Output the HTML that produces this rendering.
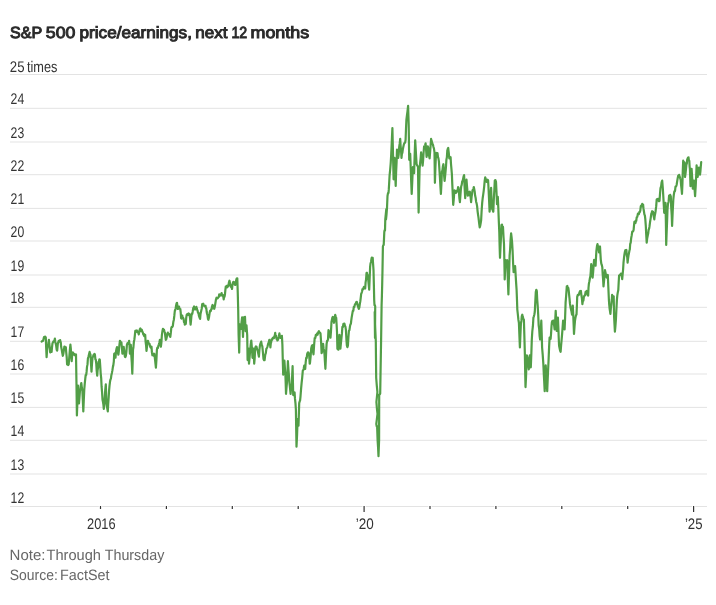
<!DOCTYPE html>
<html><head><meta charset="utf-8"><style>
html,body{margin:0;padding:0;background:#fff;}
body{width:716px;height:605px;overflow:hidden;}
svg{display:block;}
text{filter:grayscale(1);text-rendering:geometricPrecision;}
text{font-family:"Liberation Sans",sans-serif;}
.g{stroke:#e3e3e3;stroke-width:1;}
.t{stroke:#333;stroke-width:1.2;}
.yl{font-size:15.4px;fill:#333;}
.xl{font-size:15.3px;fill:#333;}
.ttl{font-size:16.2px;font-weight:normal;fill:#2a2a2a;stroke:#2a2a2a;stroke-width:0.95px;}
.note{font-size:15px;fill:#666;}
</style></head><body>
<svg width="716" height="605" viewBox="0 0 716 605">
<text x="10.08" y="38" class="ttl" textLength="32.31" lengthAdjust="spacingAndGlyphs">S&amp;P</text>
<text x="45.79" y="38" class="ttl" textLength="29.57" lengthAdjust="spacingAndGlyphs">500</text>
<text x="79.57" y="38" class="ttl" textLength="112.39" lengthAdjust="spacingAndGlyphs">price/earnings,</text>
<text x="195.25" y="38" class="ttl" textLength="32.22" lengthAdjust="spacingAndGlyphs">next</text>
<text x="231.51" y="38" class="ttl" textLength="15.75" lengthAdjust="spacingAndGlyphs">12</text>
<text x="250.49" y="38" class="ttl" textLength="58.70" lengthAdjust="spacingAndGlyphs">months</text>

<line x1="10" y1="474.00" x2="707" y2="474.00" class="g"/>
<line x1="10" y1="440.30" x2="707" y2="440.30" class="g"/>
<line x1="10" y1="407.40" x2="707" y2="407.40" class="g"/>
<line x1="10" y1="374.00" x2="707" y2="374.00" class="g"/>
<line x1="10" y1="341.30" x2="707" y2="341.30" class="g"/>
<line x1="10" y1="307.30" x2="707" y2="307.30" class="g"/>
<line x1="10" y1="275.00" x2="707" y2="275.00" class="g"/>
<line x1="10" y1="241.00" x2="707" y2="241.00" class="g"/>
<line x1="10" y1="208.40" x2="707" y2="208.40" class="g"/>
<line x1="10" y1="174.70" x2="707" y2="174.70" class="g"/>
<line x1="10" y1="142.00" x2="707" y2="142.00" class="g"/>
<line x1="10" y1="108.30" x2="707" y2="108.30" class="g"/>
<line x1="10" y1="74.50" x2="707" y2="74.50" class="g"/>
<line x1="10" y1="506.50" x2="707" y2="506.50" class="g"/>

<text x="10.6" y="502.5" class="yl" textLength="13.6" lengthAdjust="spacingAndGlyphs">12</text>
<text x="10.6" y="470.0" class="yl" textLength="13.6" lengthAdjust="spacingAndGlyphs">13</text>
<text x="10.6" y="436.3" class="yl" textLength="13.6" lengthAdjust="spacingAndGlyphs">14</text>
<text x="10.6" y="403.4" class="yl" textLength="13.6" lengthAdjust="spacingAndGlyphs">15</text>
<text x="10.6" y="370.0" class="yl" textLength="13.6" lengthAdjust="spacingAndGlyphs">16</text>
<text x="10.6" y="337.3" class="yl" textLength="13.6" lengthAdjust="spacingAndGlyphs">17</text>
<text x="10.6" y="303.3" class="yl" textLength="13.6" lengthAdjust="spacingAndGlyphs">18</text>
<text x="10.6" y="271.0" class="yl" textLength="13.6" lengthAdjust="spacingAndGlyphs">19</text>
<text x="10.6" y="237.0" class="yl" textLength="13.6" lengthAdjust="spacingAndGlyphs">20</text>
<text x="10.6" y="204.4" class="yl" textLength="13.6" lengthAdjust="spacingAndGlyphs">21</text>
<text x="10.6" y="170.7" class="yl" textLength="13.6" lengthAdjust="spacingAndGlyphs">22</text>
<text x="10.6" y="138.0" class="yl" textLength="13.6" lengthAdjust="spacingAndGlyphs">23</text>
<text x="10.6" y="104.3" class="yl" textLength="13.6" lengthAdjust="spacingAndGlyphs">24</text>
<text x="9.85" y="71.8" class="yl" textLength="14.70" lengthAdjust="spacingAndGlyphs">25</text>
<text x="26.90" y="71.8" class="yl" textLength="30.51" lengthAdjust="spacingAndGlyphs">times</text>

<line x1="100.5" y1="506.0" x2="100.5" y2="509.0" stroke="#fff" stroke-width="3.4"/>
<line x1="100.5" y1="506.0" x2="100.5" y2="509.0" class="t"/>
<line x1="166.4" y1="506.0" x2="166.4" y2="509.0" stroke="#fff" stroke-width="3.4"/>
<line x1="166.4" y1="506.0" x2="166.4" y2="509.0" class="t"/>
<line x1="232.3" y1="506.0" x2="232.3" y2="509.0" stroke="#fff" stroke-width="3.4"/>
<line x1="232.3" y1="506.0" x2="232.3" y2="509.0" class="t"/>
<line x1="298.2" y1="506.0" x2="298.2" y2="509.0" stroke="#fff" stroke-width="3.4"/>
<line x1="298.2" y1="506.0" x2="298.2" y2="509.0" class="t"/>
<line x1="364.1" y1="506.0" x2="364.1" y2="512.0" stroke="#fff" stroke-width="3.4"/>
<line x1="364.1" y1="506.0" x2="364.1" y2="512.0" class="t"/>
<line x1="430.0" y1="506.0" x2="430.0" y2="509.0" stroke="#fff" stroke-width="3.4"/>
<line x1="430.0" y1="506.0" x2="430.0" y2="509.0" class="t"/>
<line x1="495.9" y1="506.0" x2="495.9" y2="509.0" stroke="#fff" stroke-width="3.4"/>
<line x1="495.9" y1="506.0" x2="495.9" y2="509.0" class="t"/>
<line x1="561.8" y1="506.0" x2="561.8" y2="509.0" stroke="#fff" stroke-width="3.4"/>
<line x1="561.8" y1="506.0" x2="561.8" y2="509.0" class="t"/>
<line x1="627.7" y1="506.0" x2="627.7" y2="509.0" stroke="#fff" stroke-width="3.4"/>
<line x1="627.7" y1="506.0" x2="627.7" y2="509.0" class="t"/>
<line x1="693.6" y1="506.0" x2="693.6" y2="512.0" stroke="#fff" stroke-width="3.4"/>
<line x1="693.6" y1="506.0" x2="693.6" y2="512.0" class="t"/>

<text x="101.3" y="529" class="xl" text-anchor="middle" textLength="28.5" lengthAdjust="spacingAndGlyphs">2016</text>
<text x="364.7" y="529" class="xl" text-anchor="middle" textLength="18" lengthAdjust="spacingAndGlyphs">’20</text>
<text x="693.7" y="529" class="xl" text-anchor="middle" textLength="17.6" lengthAdjust="spacingAndGlyphs">’25</text>
<path d="M41.6,341.6 L42.2,341.1 L42.8,341.0 L43.4,339.7 L44.0,337.0 L44.6,336.9 L45.2,336.6 L45.8,337.6 L46.2,348.5 L46.6,357.1 L47.1,350.2 L47.6,346.5 L48.0,345.3 L48.5,343.1 L48.9,339.9 L49.3,344.0 L49.8,347.7 L50.2,352.5 L50.7,351.6 L51.1,351.2 L51.6,351.8 L52.0,347.3 L52.5,343.2 L53.1,342.1 L53.7,341.1 L54.3,341.3 L54.9,338.6 L55.3,342.0 L55.8,343.9 L56.2,345.9 L56.7,349.8 L57.2,350.5 L57.8,343.9 L58.3,342.0 L58.7,340.8 L59.2,340.9 L59.6,341.6 L60.1,340.1 L60.5,341.9 L60.8,342.7 L61.1,346.5 L61.7,349.6 L62.2,352.6 L62.8,355.8 L63.3,354.0 L63.9,350.0 L64.4,346.5 L64.9,346.8 L65.3,347.0 L65.8,347.2 L66.2,352.1 L66.7,357.1 L67.1,364.4 L67.6,363.4 L68.2,365.0 L68.7,364.4 L69.3,356.8 L69.8,350.7 L70.4,344.5 L70.8,348.4 L71.3,356.6 L71.7,361.1 L72.1,355.8 L72.4,352.8 L72.9,352.4 L73.5,354.7 L74.0,353.8 L74.5,354.0 L75.0,355.3 L75.5,354.8 L76.0,354.5 L76.5,385.7 L76.9,415.4 L77.5,399.2 L78.0,385.6 L78.5,394.7 L79.0,403.5 L79.5,396.9 L80.0,390.3 L80.4,389.1 L80.9,385.0 L81.3,383.0 L81.8,387.3 L82.4,391.0 L82.8,399.8 L83.3,411.4 L83.8,399.8 L84.3,389.0 L84.8,383.1 L85.3,378.4 L85.7,375.0 L86.2,374.9 L86.6,371.7 L87.0,366.9 L87.5,364.4 L87.9,358.5 L88.5,356.6 L89.0,354.4 L89.6,351.9 L90.0,353.6 L90.5,354.5 L91.0,363.7 L91.5,371.7 L92.0,363.7 L92.5,357.9 L93.0,356.7 L93.5,355.1 L94.0,354.6 L94.5,353.9 L94.9,354.6 L95.4,359.3 L95.8,359.8 L96.3,364.2 L96.7,370.9 L97.2,375.7 L97.6,370.4 L98.1,367.6 L98.5,361.8 L98.9,361.7 L99.4,359.3 L99.8,359.8 L100.3,367.1 L100.7,373.6 L101.2,378.4 L101.6,386.7 L102.1,392.7 L102.5,399.5 L102.9,401.5 L103.4,404.7 L103.8,408.8 L104.3,404.0 L104.8,396.7 L105.3,389.4 L105.8,384.3 L106.2,395.1 L106.5,403.5 L106.9,406.6 L107.4,409.0 L107.8,411.4 L108.2,404.0 L108.7,397.0 L109.1,390.3 L109.5,385.9 L110.0,381.8 L110.4,379.7 L110.9,378.6 L111.4,374.9 L111.9,372.9 L112.4,370.4 L112.9,366.9 L113.3,365.4 L113.8,361.7 L114.2,353.7 L114.6,353.5 L115.1,356.0 L115.5,357.7 L116.0,351.7 L116.5,348.8 L117.0,347.1 L117.4,347.8 L117.9,352.7 L118.4,354.7 L118.9,350.6 L119.4,345.2 L119.9,340.8 L120.4,341.4 L120.9,343.0 L121.4,342.3 L121.9,347.5 L122.4,353.7 L122.8,351.7 L123.3,349.7 L123.7,346.8 L124.1,349.6 L124.5,353.5 L124.9,356.7 L125.4,357.0 L125.9,355.7 L126.4,351.6 L126.9,344.8 L127.5,343.2 L128.0,343.8 L128.6,343.7 L129.1,340.8 L129.5,345.7 L129.9,353.7 L130.4,350.1 L130.8,344.8 L131.3,355.4 L131.8,362.8 L132.3,373.6 L132.7,361.4 L133.0,349.8 L133.4,347.5 L133.9,341.6 L134.3,339.9 L134.8,335.8 L135.3,330.9 L135.8,331.7 L136.3,330.6 L136.8,330.4 L137.3,332.1 L137.8,331.5 L138.3,332.4 L138.8,334.4 L139.3,331.5 L139.8,329.4 L140.3,328.5 L140.8,329.2 L141.3,331.2 L141.8,329.9 L142.3,331.6 L142.8,332.4 L143.3,334.4 L143.8,333.8 L144.2,336.1 L144.7,334.6 L145.2,334.9 L145.6,341.7 L146.1,345.5 L146.5,350.8 L147.1,345.9 L147.7,340.8 L148.0,340.8 L148.5,343.0 L149.0,343.5 L149.5,343.7 L150.0,345.9 L150.5,347.5 L151.0,346.9 L151.5,346.7 L151.9,352.2 L152.4,355.2 L152.9,354.4 L153.4,355.6 L153.9,353.7 L154.3,353.8 L154.7,356.6 L155.1,360.0 L155.5,364.0 L155.9,367.6 L156.4,360.1 L156.9,349.7 L157.4,347.6 L157.9,348.0 L158.4,345.7 L158.9,344.3 L159.4,342.5 L159.9,339.8 L160.4,343.7 L160.9,346.7 L161.4,342.3 L161.9,334.8 L162.4,331.3 L162.9,328.9 L163.4,329.4 L163.9,329.5 L164.4,331.3 L164.9,332.7 L165.3,336.0 L165.8,339.8 L166.3,339.1 L166.8,336.9 L167.3,333.8 L167.8,332.6 L168.3,334.1 L168.8,333.8 L169.3,334.7 L169.8,336.1 L170.3,336.8 L170.8,332.9 L171.3,327.9 L171.8,326.8 L172.3,326.9 L172.8,326.0 L173.3,322.1 L173.8,319.9 L174.3,315.9 L174.8,311.0 L175.2,310.0 L175.7,308.2 L176.1,305.4 L176.6,303.2 L177.0,302.8 L177.4,305.6 L177.8,309.0 L178.4,308.6 L179.0,306.5 L179.4,308.3 L179.9,308.9 L180.3,309.0 L180.7,312.3 L181.1,318.1 L181.5,318.6 L181.9,317.4 L182.3,315.6 L182.7,317.9 L183.2,317.9 L183.6,318.9 L184.0,322.2 L184.4,321.3 L184.8,324.7 L185.3,322.8 L185.8,324.0 L186.2,317.9 L186.7,314.8 L187.2,314.0 L187.6,314.0 L188.1,314.8 L188.5,313.5 L189.0,314.5 L189.4,314.0 L190.0,317.9 L190.6,324.7 L191.0,320.8 L191.4,316.4 L191.8,313.7 L192.3,313.7 L192.7,311.5 L193.2,308.3 L193.6,307.6 L194.1,306.5 L194.6,309.4 L195.2,309.5 L195.6,308.8 L196.0,308.8 L196.4,306.9 L197.0,309.3 L197.6,310.7 L198.0,312.7 L198.5,313.0 L198.9,315.6 L199.5,317.5 L200.1,318.9 L200.5,314.1 L200.9,312.3 L201.3,310.5 L201.8,308.2 L202.2,304.0 L202.7,305.7 L203.3,303.7 L203.8,305.7 L204.2,305.5 L204.7,305.7 L205.1,306.5 L205.5,305.8 L205.9,308.0 L206.3,308.2 L206.7,312.1 L207.1,314.0 L207.5,315.3 L208.0,319.0 L208.4,319.8 L209.0,317.4 L209.6,313.1 L210.2,310.5 L210.7,311.2 L211.3,309.0 L211.7,309.0 L212.0,306.5 L212.5,305.0 L213.0,305.5 L213.6,307.4 L214.2,308.8 L214.6,307.6 L215.0,305.5 L215.4,303.0 L215.9,299.8 L216.5,297.7 L217.1,298.1 L217.5,298.3 L217.9,298.0 L218.3,297.3 L218.8,296.9 L219.2,294.4 L219.6,295.8 L220.0,294.6 L220.4,295.6 L221.0,295.1 L221.6,293.1 L222.0,294.9 L222.4,295.6 L222.8,295.0 L223.2,296.1 L223.7,299.3 L224.1,296.3 L224.5,296.8 L224.9,294.8 L225.4,289.7 L225.8,286.5 L226.4,286.3 L227.0,285.7 L227.4,287.3 L227.9,285.6 L228.3,286.1 L228.9,282.6 L229.5,280.7 L229.9,282.7 L230.3,284.9 L230.9,286.8 L231.4,286.4 L232.0,289.0 L232.4,285.7 L232.8,283.2 L233.3,281.8 L233.9,283.2 L234.4,282.4 L234.9,284.7 L235.3,284.9 L235.9,281.6 L236.5,279.1 L236.9,278.3 L237.3,278.3 L237.8,294.3 L238.2,310.0 L238.6,334.7 L239.2,352.6 L239.5,337.5 L239.8,324.3 L240.4,325.8 L240.9,328.9 L241.5,322.6 L242.1,317.3 L242.6,327.0 L243.0,337.0 L243.4,325.8 L243.8,317.3 L244.4,317.9 L245.0,316.8 L245.6,331.2 L246.1,328.6 L246.5,325.4 L246.8,329.6 L247.2,335.0 L247.6,360.1 L248.1,353.0 L248.5,348.6 L249.0,363.6 L249.6,357.5 L250.2,349.7 L250.8,343.9 L251.3,340.5 L251.9,348.0 L252.5,357.8 L252.9,352.0 L253.3,348.6 L253.8,354.8 L254.2,363.6 L254.6,359.5 L255.0,352.1 L255.4,347.4 L255.9,346.5 L256.5,346.8 L257.1,349.5 L257.7,350.0 L258.3,353.7 L258.9,356.6 L259.4,349.8 L260.0,345.1 L260.6,343.1 L261.2,341.6 L261.8,345.1 L262.3,346.2 L262.9,352.2 L263.5,359.0 L264.1,360.2 L264.6,360.1 L265.2,355.0 L265.8,353.2 L266.4,348.6 L267.0,347.9 L267.5,346.5 L268.1,343.9 L268.7,342.5 L269.3,339.9 L269.9,343.2 L270.4,347.4 L270.8,343.3 L271.2,342.1 L271.6,339.3 L272.2,339.8 L272.8,337.8 L273.3,337.7 L273.9,338.2 L274.3,336.5 L274.8,335.5 L275.2,332.9 L275.6,336.2 L276.1,335.7 L276.5,338.9 L277.0,338.2 L277.4,340.5 L277.9,339.9 L278.4,338.2 L278.9,336.3 L279.4,333.4 L279.9,336.5 L280.4,337.8 L280.9,337.9 L281.4,338.0 L281.9,335.9 L282.4,344.9 L282.8,360.6 L283.2,374.6 L283.8,367.3 L284.4,360.7 L284.9,368.1 L285.4,374.6 L285.7,383.2 L286.0,393.8 L286.4,388.9 L286.9,383.2 L287.3,376.6 L287.9,361.2 L288.4,369.0 L288.9,375.3 L289.4,382.6 L289.8,385.9 L290.2,389.8 L290.6,393.8 L291.0,388.8 L291.5,387.8 L291.9,383.2 L292.2,374.8 L292.6,366.2 L293.2,395.1 L293.7,393.9 L294.1,393.5 L294.6,392.5 L295.0,398.9 L295.5,403.6 L295.9,409.7 L296.2,429.3 L296.5,446.7 L297.1,434.2 L297.6,419.0 L298.1,421.9 L298.5,425.6 L298.9,413.2 L299.2,403.1 L299.6,401.7 L300.1,400.3 L300.5,396.5 L301.1,388.7 L301.6,383.2 L302.2,377.6 L302.8,370.7 L303.3,370.1 L303.7,368.7 L304.2,365.7 L304.7,366.1 L305.2,369.0 L305.7,362.1 L306.2,357.8 L306.7,358.0 L307.2,353.8 L307.7,352.6 L308.2,352.3 L308.6,353.1 L309.0,353.5 L309.4,358.4 L309.7,363.7 L310.0,363.0 L310.6,356.6 L311.2,348.6 L311.8,345.9 L312.4,345.1 L312.9,351.0 L313.5,354.3 L314.1,345.3 L314.7,338.2 L315.3,338.1 L315.8,334.9 L316.4,335.3 L316.8,335.0 L317.2,333.4 L317.6,334.7 L318.0,332.9 L318.5,331.8 L318.9,331.2 L319.4,332.7 L320.0,332.6 L320.5,333.5 L321.1,341.9 L321.6,353.2 L322.1,351.7 L322.6,348.2 L323.1,343.9 L323.6,348.7 L324.0,350.0 L324.5,354.3 L324.9,361.2 L325.4,368.8 L325.8,359.6 L326.2,351.0 L326.6,343.9 L327.1,340.9 L327.5,340.8 L328.0,339.3 L328.5,330.1 L329.1,331.7 L329.7,335.8 L330.1,335.7 L330.5,337.7 L331.0,330.9 L331.5,321.8 L331.9,320.1 L332.4,317.5 L332.8,316.9 L333.4,320.4 L334.0,322.8 L334.6,318.1 L335.2,314.9 L335.7,316.5 L336.2,317.9 L336.6,324.2 L337.0,331.8 L337.4,348.7 L337.9,349.3 L338.4,349.7 L338.9,342.7 L339.4,334.8 L339.9,341.9 L340.4,348.7 L340.9,343.4 L341.4,338.7 L341.9,333.7 L342.4,326.8 L342.9,327.0 L343.4,323.8 L343.9,323.8 L344.4,323.6 L344.9,325.8 L345.4,326.6 L345.9,329.8 L346.4,339.3 L346.9,345.7 L347.4,347.1 L347.9,345.7 L348.4,337.4 L348.9,330.8 L349.4,330.3 L349.9,326.8 L350.4,324.4 L350.9,323.8 L351.2,320.9 L351.6,317.9 L352.2,314.4 L352.8,310.9 L353.3,310.9 L353.8,306.8 L354.3,307.0 L354.8,304.9 L355.3,304.0 L355.8,303.3 L356.3,302.0 L356.8,301.9 L357.3,303.8 L357.8,306.0 L358.3,307.3 L358.8,308.9 L359.3,307.7 L359.8,304.0 L360.3,301.4 L360.7,298.2 L361.2,293.7 L361.6,293.0 L362.1,291.2 L362.5,289.0 L363.0,289.5 L363.4,288.2 L363.9,287.0 L364.3,288.3 L364.8,287.4 L365.2,288.5 L365.6,282.3 L366.1,279.1 L366.5,273.1 L366.9,272.7 L367.4,275.8 L367.8,275.1 L368.3,280.3 L368.7,284.3 L369.2,289.7 L369.6,279.8 L370.1,267.2 L370.5,263.5 L371.0,262.0 L371.4,259.3 L371.8,257.5 L372.3,259.9 L372.7,257.9 L373.1,264.1 L373.5,269.8 L373.9,285.9 L374.2,300.0 L374.5,305.2 L374.9,305.2 L375.2,306.5 L375.0,338.0 L374.7,312.0 L375.2,327.5 L375.8,341.0 L376.2,378.0 L376.8,385.6 L377.4,392.0 L376.4,402.0 L376.9,408.5 L377.5,414.0 L376.3,424.0 L376.7,426.4 L377.1,426.0 L377.6,440.0 L378.1,447.9 L378.5,456.2 L378.8,447.8 L379.1,440.0 L379.2,394.5 L379.7,394.6 L380.2,393.5 L380.6,369.0 L381.1,340.0 L381.6,305.0 L381.9,296.3 L382.2,284.2 L382.5,270.0 L382.9,246.5 L383.3,245.2 L383.7,245.0 L384.0,239.0 L384.3,232.0 L384.6,230.3 L385.0,230.5 L385.3,219.0 L385.8,214.2 L386.3,209.0 L386.0,219.5 L386.5,214.6 L387.0,208.0 L387.5,196.0 L388.0,193.1 L388.5,193.0 L388.8,189.4 L389.1,184.3 L389.6,175.3 L390.2,169.4 L390.7,163.4 L391.2,154.5 L391.8,141.2 L392.4,128.1 L392.8,144.9 L393.2,162.9 L393.6,179.3 L394.1,168.7 L394.5,157.9 L395.1,172.7 L395.7,186.0 L396.1,172.5 L396.6,161.9 L397.0,149.6 L397.6,153.9 L398.2,157.9 L398.7,154.5 L399.2,146.9 L399.7,143.4 L400.2,138.8 L400.6,145.6 L401.1,151.7 L401.5,157.9 L401.9,153.8 L402.4,152.7 L402.8,149.6 L403.4,146.5 L403.9,144.2 L404.5,143.0 L405.1,142.6 L405.6,139.7 L406.0,128.8 L406.4,119.8 L407.0,115.0 L407.5,111.3 L408.1,105.8 L408.7,125.0 L409.2,159.8 L409.7,157.5 L410.2,153.8 L410.7,167.4 L411.2,181.6 L411.7,194.0 L412.3,180.5 L412.9,167.2 L413.3,169.6 L413.7,172.2 L414.1,173.2 L414.6,157.4 L415.2,140.4 L415.7,148.8 L416.1,156.0 L416.6,164.2 L417.1,165.4 L417.5,165.9 L418.0,167.2 L418.3,190.7 L418.6,212.6 L419.1,190.3 L419.6,168.7 L420.1,163.1 L420.6,158.6 L421.1,152.3 L421.6,156.8 L422.1,160.7 L422.6,165.7 L423.1,160.3 L423.6,152.5 L424.1,146.4 L424.6,146.5 L425.1,145.3 L425.6,143.4 L426.1,149.9 L426.6,156.8 L427.2,152.3 L427.8,146.4 L428.2,147.9 L428.7,152.0 L429.2,156.5 L429.6,158.3 L430.1,152.1 L430.6,145.6 L431.1,138.9 L431.6,140.9 L432.1,142.5 L432.5,143.7 L433.0,144.9 L433.5,147.1 L434.0,148.8 L434.5,152.3 L434.9,182.8 L435.4,167.6 L436.0,153.8 L436.5,152.9 L437.0,153.1 L437.5,153.1 L438.0,157.4 L438.4,158.1 L438.9,161.3 L439.4,169.3 L439.9,177.2 L440.4,186.1 L440.9,194.0 L441.4,184.3 L441.9,171.7 L442.4,170.4 L442.9,166.3 L443.4,164.2 L443.8,169.1 L444.2,176.6 L444.6,181.0 L445.1,176.1 L445.5,171.9 L446.0,166.5 L446.4,159.8 L446.9,157.1 L447.3,150.6 L447.8,148.7 L448.2,147.9 L448.8,153.2 L449.3,158.5 L449.7,157.1 L450.2,157.4 L450.6,157.2 L451.0,164.0 L451.5,169.7 L451.9,174.4 L452.3,184.4 L452.8,195.5 L453.2,204.8 L453.7,199.8 L454.1,194.7 L454.6,190.3 L455.0,191.3 L455.5,191.1 L455.9,192.9 L456.3,191.4 L456.8,191.8 L457.2,190.3 L457.6,190.3 L458.1,187.1 L458.5,187.6 L459.0,193.2 L459.4,198.3 L459.9,202.2 L460.3,196.7 L460.8,190.2 L461.2,186.3 L461.7,184.9 L462.2,181.5 L462.7,180.8 L463.2,178.4 L463.6,176.4 L464.1,175.1 L464.6,187.1 L465.2,198.2 L465.6,191.3 L466.1,185.8 L466.5,179.7 L466.9,185.1 L467.4,190.7 L467.8,195.6 L468.3,193.7 L468.8,195.1 L469.3,191.9 L469.8,191.6 L470.2,194.5 L470.7,197.9 L471.1,202.2 L471.6,196.8 L472.0,194.0 L472.5,190.3 L472.9,190.1 L473.4,188.8 L473.8,187.0 L474.2,188.9 L474.7,191.6 L475.1,195.6 L475.6,197.7 L476.1,201.7 L476.6,203.4 L477.1,206.1 L477.6,211.3 L478.0,214.3 L478.5,217.6 L479.1,222.8 L479.7,227.3 L480.2,225.9 L480.6,223.6 L481.1,220.6 L481.6,211.2 L482.2,202.7 L482.7,198.0 L483.2,194.6 L483.7,190.8 L484.2,186.3 L484.7,180.7 L485.2,177.4 L485.7,178.7 L486.1,180.8 L486.6,181.9 L487.1,180.2 L487.6,179.7 L488.1,180.4 L488.6,189.8 L489.1,200.6 L489.6,211.7 L490.1,205.2 L490.6,194.3 L491.1,187.9 L491.5,197.3 L491.8,208.7 L492.3,208.6 L492.8,210.6 L493.3,211.7 L493.8,199.7 L494.3,190.7 L494.8,180.4 L495.4,180.1 L496.0,181.9 L496.5,192.3 L497.0,204.2 L497.4,201.4 L497.8,196.8 L498.3,207.7 L498.8,221.0 L499.3,232.5 L499.6,244.9 L500.0,257.8 L500.5,246.6 L501.0,237.0 L501.5,225.1 L502.0,224.6 L502.5,227.7 L503.0,227.0 L503.5,236.7 L504.0,243.8 L504.4,262.2 L504.7,279.5 L505.2,268.4 L505.7,260.2 L506.2,260.7 L506.7,260.5 L507.2,260.2 L507.8,278.2 L508.4,294.4 L508.8,280.6 L509.2,270.1 L509.6,255.7 L510.1,249.5 L510.6,239.6 L511.1,233.4 L511.6,237.3 L512.1,242.3 L512.6,250.7 L513.1,263.2 L513.6,272.1 L514.1,271.4 L514.6,269.7 L515.1,266.1 L515.6,274.4 L516.1,282.6 L516.6,290.0 L517.0,300.2 L517.3,309.3 L517.8,314.0 L518.4,319.7 L518.9,322.7 L519.4,335.4 L519.9,347.5 L520.4,335.0 L520.9,323.6 L521.4,320.7 L521.8,316.1 L522.3,314.7 L522.8,317.1 L523.4,318.7 L523.9,319.7 L524.4,337.3 L524.9,355.4 L525.2,372.4 L525.5,387.1 L526.0,377.4 L526.4,365.4 L526.9,355.4 L527.4,357.5 L527.8,361.2 L528.3,364.8 L528.8,369.3 L529.3,361.7 L529.8,355.4 L530.3,361.2 L530.8,367.3 L531.3,354.8 L531.8,339.5 L532.3,331.5 L532.9,326.2 L533.4,317.7 L533.9,316.3 L534.3,314.8 L534.8,311.7 L535.3,301.5 L535.8,291.9 L536.3,289.8 L536.8,290.9 L537.2,299.3 L537.7,305.8 L538.2,314.9 L538.7,325.6 L539.2,329.1 L539.6,335.8 L540.1,339.5 L540.7,330.7 L541.3,320.7 L541.7,333.2 L542.1,347.5 L542.7,354.7 L543.3,363.3 L543.8,374.0 L544.2,381.1 L544.7,391.1 L545.2,378.8 L545.7,365.3 L546.2,372.7 L546.7,383.5 L547.2,391.1 L547.7,379.3 L548.1,370.0 L548.6,359.4 L549.1,347.0 L549.6,337.5 L550.1,338.4 L550.6,339.0 L551.0,334.5 L551.5,326.4 L551.9,322.1 L552.4,320.9 L552.9,321.9 L553.4,320.6 L553.8,323.9 L554.2,325.9 L554.6,329.5 L555.2,320.6 L555.7,310.9 L556.2,320.8 L556.7,331.0 L557.3,325.5 L557.9,317.6 L558.3,326.4 L558.7,337.3 L559.1,345.9 L559.6,348.3 L560.1,350.6 L560.6,351.8 L561.1,345.5 L561.6,339.9 L562.1,334.2 L562.6,327.7 L563.1,320.6 L563.6,323.2 L564.1,325.0 L564.6,329.5 L565.1,317.6 L565.6,302.7 L566.2,295.2 L566.8,286.4 L567.3,286.0 L567.8,288.1 L568.3,287.9 L568.7,290.7 L569.1,294.7 L569.5,298.3 L570.0,303.9 L570.5,307.2 L571.0,309.5 L571.5,311.5 L572.0,314.6 L572.4,309.5 L572.8,305.7 L573.2,313.8 L573.6,323.7 L574.0,334.0 L574.5,326.6 L575.0,320.6 L575.5,317.6 L576.0,315.2 L576.5,314.6 L576.9,305.6 L577.2,296.8 L577.8,294.8 L578.4,295.3 L578.9,294.8 L579.5,292.3 L580.0,291.1 L580.4,291.5 L580.9,290.8 L581.4,295.3 L581.9,298.4 L582.4,304.2 L582.9,300.5 L583.4,300.5 L583.9,296.8 L584.5,295.6 L585.0,295.5 L585.6,291.9 L586.1,292.5 L586.7,291.0 L587.2,293.7 L587.7,295.2 L588.2,295.5 L588.5,288.0 L588.9,283.6 L589.4,281.2 L589.9,278.2 L590.4,276.1 L590.8,271.0 L591.2,264.2 L591.7,267.3 L592.1,272.4 L592.6,277.6 L593.1,272.7 L593.6,265.6 L594.1,259.8 L594.6,261.6 L595.1,265.2 L595.6,265.7 L596.0,257.7 L596.4,250.8 L597.0,246.0 L597.5,244.1 L598.0,246.5 L598.5,248.5 L599.0,252.3 L599.5,248.1 L600.0,246.5 L600.4,253.4 L600.8,259.8 L601.3,263.7 L601.8,265.0 L602.3,267.2 L602.7,274.1 L603.1,279.5 L603.5,286.5 L604.0,281.3 L604.5,276.4 L605.0,270.2 L605.6,273.0 L606.2,276.1 L606.8,277.6 L607.3,276.5 L607.8,275.0 L608.3,286.5 L608.9,299.9 L609.2,304.5 L609.6,308.5 L610.0,311.1 L610.4,313.8 L610.9,307.7 L611.4,303.8 L611.8,299.7 L612.1,294.9 L612.5,298.0 L613.0,299.0 L613.4,296.5 L613.7,296.4 L614.1,316.7 L614.5,324.3 L614.9,331.6 L615.4,326.4 L615.9,319.7 L616.4,309.5 L616.9,299.9 L617.3,295.7 L617.7,292.9 L618.3,290.0 L618.7,282.3 L619.1,275.5 L619.7,275.0 L620.3,274.8 L620.9,273.6 L621.3,275.6 L621.8,276.0 L622.2,279.1 L622.6,274.7 L623.1,269.5 L623.5,262.7 L624.0,257.8 L624.4,254.6 L624.9,251.8 L625.4,250.2 L625.9,251.7 L626.4,250.0 L626.8,255.5 L627.2,257.0 L627.6,262.7 L628.0,259.1 L628.5,255.6 L628.9,253.6 L629.4,250.8 L629.8,249.5 L630.2,244.0 L630.7,242.7 L631.2,238.0 L631.7,235.4 L632.2,231.8 L632.7,231.3 L633.1,231.4 L633.6,230.0 L634.0,225.7 L634.4,221.8 L635.0,221.3 L635.5,223.0 L635.9,220.6 L636.3,220.7 L636.7,217.3 L637.3,216.9 L637.9,213.6 L638.5,213.6 L638.9,214.1 L639.4,211.9 L639.8,212.0 L640.3,210.7 L640.8,206.1 L641.3,205.5 L641.8,206.4 L642.2,203.9 L642.6,204.6 L643.1,204.5 L643.5,208.7 L644.0,211.8 L644.4,214.3 L644.9,215.6 L645.3,219.1 L645.8,225.8 L646.2,234.1 L646.7,242.7 L647.2,238.2 L647.7,235.7 L648.2,233.6 L648.6,230.0 L649.1,228.7 L649.5,226.4 L650.1,221.7 L650.7,218.1 L651.3,213.6 L651.8,212.4 L652.2,211.2 L652.6,211.7 L653.1,211.8 L653.7,216.4 L654.3,219.4 L654.7,215.9 L655.2,213.6 L655.6,211.2 L656.2,206.2 L656.7,199.6 L657.3,199.0 L657.8,200.3 L658.4,198.8 L659.0,201.2 L659.5,201.0 L660.0,193.9 L660.5,188.0 L661.1,186.3 L661.6,182.3 L662.2,180.6 L662.8,188.1 L663.4,197.9 L663.8,205.2 L664.2,212.8 L664.6,209.8 L665.1,207.6 L665.5,202.9 L665.9,222.8 L666.2,245.0 L666.6,233.8 L667.1,221.3 L667.5,209.5 L668.0,203.7 L668.6,201.7 L669.1,195.5 L669.7,196.4 L670.2,194.8 L670.8,196.3 L671.2,207.5 L671.7,214.8 L672.1,226.0 L672.7,211.5 L673.3,199.6 L673.8,194.9 L674.4,191.3 L675.0,191.1 L675.5,186.5 L676.1,186.4 L676.6,185.0 L677.2,181.2 L677.7,178.1 L678.2,175.6 L678.6,176.1 L679.1,174.8 L679.6,176.3 L680.2,178.3 L680.7,179.8 L681.1,185.2 L681.6,189.7 L682.0,193.8 L682.4,184.4 L682.8,170.6 L683.2,160.7 L683.7,162.5 L684.3,162.1 L684.8,163.2 L685.0,177.0 L685.5,173.7 L685.9,169.8 L686.4,164.3 L686.8,163.9 L687.2,159.7 L687.6,158.5 L688.0,157.7 L688.5,157.3 L688.9,160.5 L689.3,160.8 L689.6,166.3 L689.9,168.9 L690.2,177.1 L690.5,186.2 L691.0,179.0 L691.6,168.9 L692.2,178.4 L692.8,188.6 L693.3,184.1 L693.9,180.5 L694.3,186.5 L694.7,190.8 L695.1,196.1 L695.4,191.0 L695.7,186.2 L696.2,175.4 L696.6,165.4 L697.2,171.0 L697.7,177.0 L698.3,171.2 L698.9,167.7 L699.5,169.8 L700.0,174.7 L700.4,171.3 L700.8,166.4 L701.2,162.0" fill="none" stroke="#529e47" stroke-width="2.2" stroke-linejoin="round" stroke-linecap="round"/>
<text x="9.56" y="560" class="note" textLength="35.85" lengthAdjust="spacingAndGlyphs">Note:</text>
<text x="46.56" y="560" class="note" textLength="54.41" lengthAdjust="spacingAndGlyphs">Through</text>
<text x="104.73" y="560" class="note" textLength="59.61" lengthAdjust="spacingAndGlyphs">Thursday</text>
<text x="9.69" y="579.6" class="note" textLength="48.08" lengthAdjust="spacingAndGlyphs">Source:</text>
<text x="60.00" y="579.6" class="note" textLength="49.48" lengthAdjust="spacingAndGlyphs">FactSet</text>

</svg>
</body></html>
